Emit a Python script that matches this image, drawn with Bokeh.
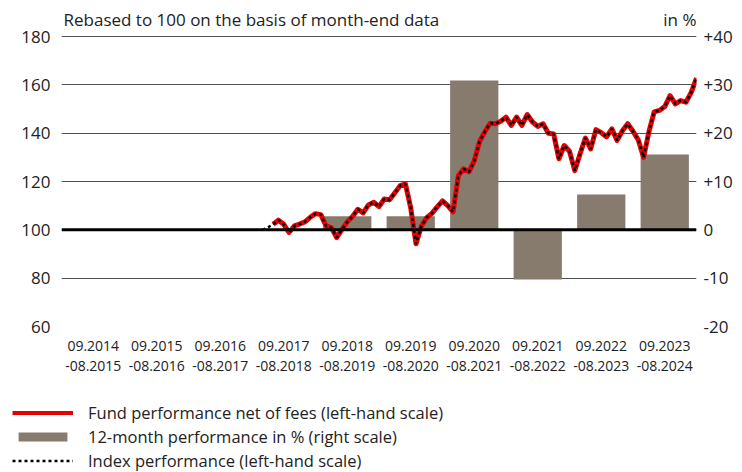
import pandas as pd
from bokeh.plotting import figure
from bokeh.models import (Range1d, LinearAxis, FixedTicker, Span, Label, Legend,
                          LegendItem)
from bokeh.embed import file_html
from bokeh.resources import INLINE

FONT = "Open Sans"
TXT = "#222222"

# ---- data -------------------------------------------------------------
period_labels = ["09.2014\n-08.2015", "09.2015\n-08.2016", "09.2016\n-08.2017",
                 "09.2017\n-08.2018", "09.2018\n-08.2019", "09.2019\n-08.2020",
                 "09.2020\n-08.2021", "09.2021\n-08.2022", "09.2022\n-08.2023",
                 "09.2023\n-08.2024"]
bar_pct = [None, None, None, None, 2.8, 2.8, 30.9, -10.3, 7.3, 15.6]

left_ticks = [60, 80, 100, 120, 140, 160, 180]
right_ticks = [-20, -10, 0, 10, 20, 30, 40]
right_labels = ["-20", "-10", "0", "+10", "+20", "+30", "+40"]

series_origin = "2014-08-31"   # start of the first 12-month period
index_start = "2017-10-31"
fund_start = "2017-12-31"

fund_vals = [102.3, 104.0, 102.3, 98.9, 101.6, 102.4, 103.3, 105.2, 106.7, 106.3,
             101.6, 100.9, 96.8, 100.2, 103.3, 105.5, 108.5, 107.0, 110.3, 111.4,
             109.6, 112.8, 112.4, 115.3, 118.3, 119.0, 109.0, 94.2, 101.5, 105.0,
             106.8, 109.5, 112.0, 110.0, 107.4, 122.5, 125.2, 124.0, 128.5, 136.5,
             140.6, 144.1, 143.9, 144.9, 146.6, 143.2, 146.6, 143.2, 147.7, 144.6,
             142.8, 143.9, 140.0, 139.7, 129.4, 134.9, 132.5, 124.5, 131.5, 138.0,
             133.5, 141.5, 140.2, 138.5, 141.8, 137.0, 141.0, 143.9, 140.8, 137.2,
             130.0, 140.5, 148.8, 149.4, 151.0, 155.5, 152.1, 153.5, 152.8, 156.9,
             162.8]
index_vals = [100.0, 101.0] + fund_vals

# ---- helpers ----------------------------------------------------------
origin = pd.Timestamp(series_origin)


def month_x(start, n):
    d = pd.date_range(start, periods=n, freq="ME")
    return [((x.year - origin.year) * 12 + (x.month - origin.month)) / 12.0 for x in d]


fund_x = month_x(fund_start, len(fund_vals))
index_x = month_x(index_start, len(index_vals))

centers = [i + 0.5 for i in range(len(period_labels))]
bx = [c for c, v in zip(centers, bar_pct) if v is not None]
bt = [v for v in bar_pct if v is not None]

# ---- layout (pixels) --------------------------------------------------
W = 742
FR_L, FR_R = 61, 696          # frame left / right
TOP_PAD, PLOT_H = 36, 290     # space above the 180 line, height 180..60
BOTTOM = 64                   # room for the period labels
LEG_H = 82

y_lo, y_hi = left_ticks[0], left_ticks[-1]
r_lo, r_hi = right_ticks[0], right_ticks[-1]
y_top = y_hi + TOP_PAD * (y_hi - y_lo) / PLOT_H
r_top = r_hi + TOP_PAD * (r_hi - r_lo) / PLOT_H

p = figure(width=W, height=TOP_PAD + PLOT_H + BOTTOM, output_backend="svg",
           toolbar_location=None,
           x_range=Range1d(0, len(period_labels)), y_range=Range1d(y_lo, y_top),
           min_border_left=FR_L, min_border_right=W - FR_R, min_border_top=0,
           min_border_bottom=BOTTOM)
p.extra_y_ranges = {"pct": Range1d(r_lo, r_top)}
p.outline_line_color = None
p.xgrid.visible = False
p.ygrid.ticker = FixedTicker(ticks=left_ticks)
p.ygrid.grid_line_color = "#505050"
p.ygrid.grid_line_width = 1.2

la = p.yaxis[0]
la.ticker = FixedTicker(ticks=left_ticks)
la.axis_line_color = None
la.major_tick_line_color = None
la.minor_tick_line_color = None
la.major_tick_out = 0
la.major_label_standoff = 11
la.major_label_text_font = FONT
la.major_label_text_font_size = "17px"
la.major_label_text_color = TXT

ra = LinearAxis(y_range_name="pct", ticker=FixedTicker(ticks=right_ticks),
                major_label_overrides={t: s for t, s in zip(right_ticks, right_labels)})
ra.axis_line_color = None
ra.major_tick_line_color = None
ra.minor_tick_line_color = None
ra.major_tick_out = 0
ra.major_label_standoff = 7
ra.major_label_text_font = FONT
ra.major_label_text_font_size = "17px"
ra.major_label_text_color = TXT
p.add_layout(ra, "right")

xa = p.xaxis[0]
xa.ticker = FixedTicker(ticks=centers)
xa.major_label_overrides = {c: s for c, s in zip(centers, period_labels)}
xa.axis_line_color = None
xa.major_tick_line_color = None
xa.minor_tick_line_color = None
xa.major_tick_out = 0
xa.major_label_standoff = 9
xa.major_label_text_font = FONT
xa.major_label_text_font_size = "14px"
xa.major_label_text_color = TXT
xa.major_label_text_line_height = 1.1

BAR_COLOR = "#877B6E"
RED = "#E60000"

bars = p.vbar(x=bx, top=bt, bottom=0, width=0.76, y_range_name="pct",
              fill_color=BAR_COLOR, line_color=None)
fund_r = p.line(fund_x, fund_vals, line_color=RED, line_width=5, line_join="round")
idx_r = p.line(index_x, index_vals, line_color="black", line_width=2.5,
               line_dash="3 3")

p.add_layout(Span(location=100, dimension="width", line_color="black", line_width=3))

p.add_layout(Label(x=0, y=y_hi, x_offset=2, y_offset=17,
                   text="Rebased to 100 on the basis of month-end data",
                   text_font=FONT, text_font_size="17px", text_color=TXT,
                   text_baseline="alphabetic"))
p.add_layout(Label(x=len(period_labels), y=y_hi, x_offset=0, y_offset=17, text="in %",
                   text_font=FONT, text_font_size="17px", text_color=TXT,
                   text_baseline="alphabetic", text_align="right"))

# ---- legend panel (separate root, so its frame spans the full width) ---
lg = figure(width=W, height=LEG_H, output_backend="svg", toolbar_location=None,
            x_range=Range1d(0, 1), y_range=Range1d(0, 1),
            x_axis_type=None, y_axis_type=None,
            min_border=0, min_border_left=0, min_border_right=0,
            min_border_top=0, min_border_bottom=0)
lg.grid.visible = False
lg.outline_line_color = None
# legend sample glyphs (kept outside the visible range of this panel)
l1 = lg.line([5, 6], [5, 6], line_color=RED, line_width=4)
l2 = lg.vbar(x=[5], top=[6], bottom=[5], width=0.1, fill_color=BAR_COLOR, line_color=None)
l3 = lg.line([5, 6], [5, 6], line_color="black", line_width=2.5, line_dash="3 3")

legend = Legend(items=[
    LegendItem(label="Fund performance net of fees (left-hand scale)", renderers=[l1]),
    LegendItem(label="12-month performance in % (right scale)", renderers=[l2]),
    LegendItem(label="Index performance (left-hand scale)", renderers=[l3]),
], location=(12, 0), glyph_width=61, glyph_height=11, label_standoff=15,
    label_text_font=FONT, label_text_font_size="16.5px", label_text_color=TXT,
    spacing=1, padding=0, margin=0, border_line_color=None,
    background_fill_alpha=0, label_height=16)
lg.add_layout(legend)

open("out.html", "w").write(file_html([p, lg], INLINE))
